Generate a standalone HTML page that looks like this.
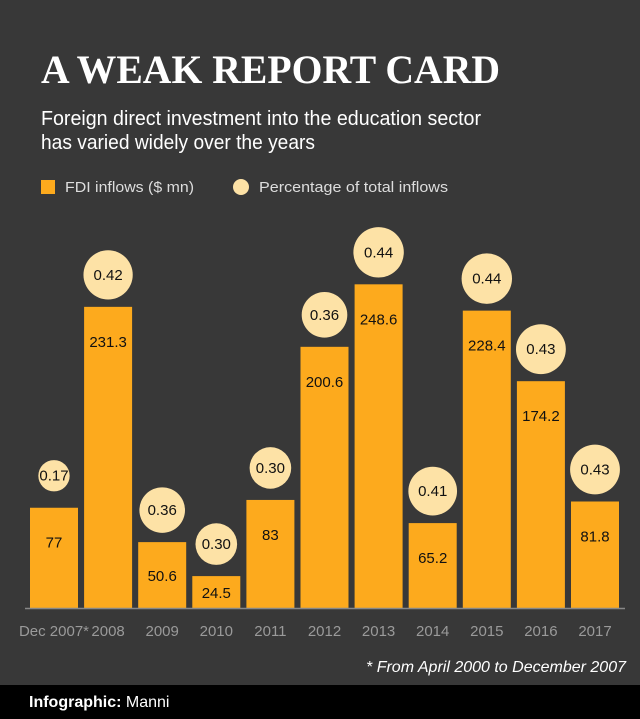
<!DOCTYPE html>
<html><head><meta charset="utf-8"><style>html,body{margin:0;padding:0;background:#383838}svg{display:block}</style></head>
<body>
<svg id="chart" width="640" height="719" viewBox="0 0 640 719" xmlns="http://www.w3.org/2000/svg" font-family="'Liberation Sans', sans-serif">
<rect x="0" y="0" width="640" height="719" fill="#383838"/>
<text x="41" y="83" font-family="'Liberation Serif', serif" font-weight="bold" font-size="40" fill="#fff" textLength="459" lengthAdjust="spacingAndGlyphs">A WEAK REPORT CARD</text>
<text x="41" y="125" font-size="20" fill="#fff" textLength="440" lengthAdjust="spacingAndGlyphs">Foreign direct investment into the education sector</text>
<text x="41" y="149" font-size="20" fill="#fff" textLength="274" lengthAdjust="spacingAndGlyphs">has varied widely over the years</text>
<g>
<rect x="41" y="180" width="14" height="14" fill="#fdaa1d"/>
<text x="65" y="192" font-size="15" fill="#ddd" textLength="129" lengthAdjust="spacingAndGlyphs">FDI inflows ($ mn)</text>
<circle cx="241" cy="187" r="8" fill="#fde2a6"/>
<text x="259" y="192" font-size="15" fill="#ddd" textLength="189" lengthAdjust="spacingAndGlyphs">Percentage of total inflows</text>
</g>
<g id="bars"></g>
<line x1="25" y1="608.5" x2="625" y2="608.5" stroke="#888" stroke-width="1.5"/>
<text x="626" y="672" text-anchor="end" font-size="16" font-style="italic" fill="#fff">* From April 2000 to December 2007</text>
<rect x="0" y="685" width="640" height="34" fill="#000"/>
<text x="29" y="707" font-size="16" fill="#fff"><tspan font-weight="bold">Infographic:</tspan> Manni</text>
</svg>
<script>
const categories = ["Dec 2007*","2008","2009","2010","2011","2012","2013","2014","2015","2016","2017"];
const fdiValues = [77,231.3,50.6,24.5,83,200.6,248.6,65.2,228.4,174.2,81.8];
const fdiLabels = ["77","231.3","50.6","24.5","83","200.6","248.6","65.2","228.4","174.2","81.8"];
const pctValues = [0.17,0.42,0.36,0.30,0.30,0.36,0.44,0.41,0.44,0.43,0.43];
const pctLabels = ["0.17","0.42","0.36","0.30","0.30","0.36","0.44","0.41","0.44","0.43","0.43"];

const NS = "http://www.w3.org/2000/svg";
const baseY = 608, scale = 1.302, x0 = 54, pitch = 54.1, barW = 48;
const xScale = i => x0 + i * pitch;
const yScale = v => baseY - v * scale;
const rScale = p => 38 * Math.sqrt(p);
const g = document.getElementById("bars");
function mk(tag, attrs) { const e = document.createElementNS(NS, tag); for (const k in attrs) e.setAttribute(k, attrs[k]); return e; }
categories.forEach((c, i) => {
  const cx = xScale(i), top = yScale(fdiValues[i]);
  const bar = mk("rect", {x: cx - barW/2, y: top, width: barW, height: baseY - top, fill: "#fdaa1d"});
  
  
  g.appendChild(bar);
  const vl = mk("text", {x: cx, y: Math.min(top + 40, (top + baseY)/2 + 6), "text-anchor": "middle", "font-size": "15", fill: "#111"});
  vl.textContent = fdiLabels[i];
  
  
  g.appendChild(vl);
  const r = rScale(pctValues[i]), cy = top - 32;
  const circ = mk("circle", {cx: cx, cy: cy, r: r, fill: "#fde2a6"});
  
  
  g.appendChild(circ);
  const pl = mk("text", {x: cx, y: cy + 5, "text-anchor": "middle", "font-size": "15", fill: "#111"});
  pl.textContent = pctLabels[i];
  
  
  g.appendChild(pl);
  const xl = mk("text", {x: cx, y: 636, "text-anchor": "middle", "font-size": "15", fill: "#9a9a9a"});
  xl.textContent = c;
  
  
  g.appendChild(xl);
});
</script>
</body></html>
